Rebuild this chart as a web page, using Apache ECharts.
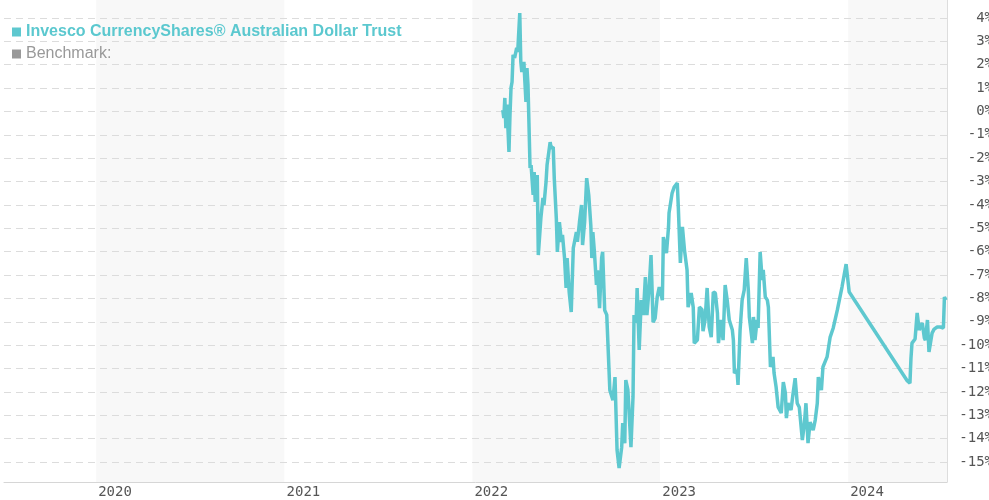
<!DOCTYPE html>
<html>
<head>
<meta charset="utf-8">
<title>Invesco CurrencyShares Australian Dollar Trust</title>
<script src="https://cdn.jsdelivr.net/npm/echarts@6/dist/echarts.min.js"></script>
<style>
  html, body { margin: 0; padding: 0; background: #fff; }
  #chart { width: 989px; height: 500px; }
</style>
</head>
<body>
<div id="chart"></div>
<script>
var fundName = 'Invesco CurrencyShares® Australian Dollar Trust'
var benchName = 'Benchmark:'

// cumulative return in %
var dates = [
  '2022-03-01', '2022-03-03', '2022-03-05', '2022-03-07', '2022-03-09', '2022-03-13', '2022-03-15', '2022-03-17',
  '2022-03-19', '2022-03-21', '2022-03-24', '2022-03-28', '2022-03-30', '2022-04-03', '2022-04-05', '2022-04-07',
  '2022-04-11', '2022-04-13', '2022-04-15', '2022-04-17', '2022-04-19', '2022-04-23', '2022-04-25', '2022-04-29',
  '2022-05-01', '2022-05-03', '2022-05-07', '2022-05-09', '2022-05-14', '2022-05-18', '2022-05-20', '2022-05-24',
  '2022-05-26', '2022-06-01', '2022-06-03', '2022-06-07', '2022-06-09', '2022-06-13', '2022-06-15', '2022-06-19',
  '2022-06-23', '2022-06-25', '2022-06-29', '2022-07-02', '2022-07-04', '2022-07-08', '2022-07-12', '2022-07-16',
  '2022-07-22', '2022-07-24', '2022-07-28', '2022-08-01', '2022-08-03', '2022-08-07', '2022-08-11', '2022-08-15',
  '2022-08-19', '2022-08-21', '2022-08-23', '2022-08-26', '2022-08-30', '2022-09-01', '2022-09-05', '2022-09-09',
  '2022-09-11', '2022-09-15', '2022-09-19', '2022-09-25', '2022-10-01', '2022-10-05', '2022-10-09', '2022-10-13',
  '2022-10-18', '2022-10-20', '2022-10-24', '2022-10-26', '2022-10-30', '2022-11-05', '2022-11-09', '2022-11-11',
  '2022-11-15', '2022-11-17', '2022-11-21', '2022-11-25', '2022-11-29', '2022-12-03', '2022-12-06', '2022-12-10',
  '2022-12-14', '2022-12-18', '2022-12-22', '2022-12-26', '2022-12-30',
  '2023-01-05', '2023-01-07', '2023-01-13', '2023-01-17', '2023-01-18', '2023-01-24', '2023-01-28', '2023-02-03',
  '2023-02-05', '2023-02-09', '2023-02-13', '2023-02-17', '2023-02-22', '2023-02-24', '2023-03-02', '2023-03-06',
  '2023-03-08', '2023-03-14', '2023-03-18', '2023-03-23', '2023-03-25', '2023-03-29', '2023-04-02', '2023-04-06',
  '2023-04-10', '2023-04-14', '2023-04-18', '2023-04-22', '2023-04-24', '2023-04-29', '2023-05-03', '2023-05-07',
  '2023-05-11', '2023-05-15', '2023-05-21', '2023-05-23', '2023-05-25', '2023-05-30', '2023-06-01', '2023-06-05',
  '2023-06-09', '2023-06-13', '2023-06-17', '2023-06-21', '2023-06-23', '2023-06-29', '2023-07-01', '2023-07-04',
  '2023-07-08', '2023-07-10', '2023-07-14', '2023-07-18', '2023-07-20', '2023-07-24', '2023-07-28', '2023-07-30',
  '2023-08-03', '2023-08-08', '2023-08-10', '2023-08-14', '2023-08-18', '2023-08-24', '2023-08-28', '2023-09-01',
  '2023-09-03', '2023-09-06', '2023-09-12', '2023-09-16', '2023-09-20', '2023-09-24', '2023-09-28', '2023-10-04',
  '2023-10-08', '2023-10-11', '2023-10-15', '2023-10-19', '2023-10-25', '2023-10-29', '2023-11-02', '2023-11-04',
  '2023-11-10', '2023-11-13', '2023-11-21', '2023-11-27', '2023-12-03', '2023-12-11', '2023-12-20', '2023-12-28',
  '2024-01-03', '2024-04-25', '2024-04-30', '2024-05-02', '2024-05-04', '2024-05-10', '2024-05-14', '2024-05-18',
  '2024-05-24', '2024-05-28', '2024-05-30', '2024-06-03', '2024-06-06', '2024-06-12', '2024-06-16', '2024-06-22',
  '2024-06-28', '2024-07-04', '2024-07-06', '2024-07-09'
]
var fundValues = [
  0.06, -0.28, 0.58, -0.71, 0.3, -1.73, -0.15, 1.01,
  1.26, 2.42, 2.29, 2.72, 2.55, 4.21, 2.12, 1.69,
  2.12, 1.26, 0.41, 1.86, 1.13, -2.42, -2.29, -3.57,
  -2.59, -3.87, -2.72, -6.14, -4.56, -3.70, -4.00, -3.02,
  -2.29, -1.31, -1.56, -1.52, -2.85, -4.56, -6.01, -4.73,
  -5.58, -5.28, -6.27, -7.55, -6.27, -7.72, -8.58, -5.84,
  -5.16, -5.58, -4.73, -4.00, -5.71, -4.73, -2.85, -3.57,
  -4.86, -6.27, -5.16, -6.01, -7.42, -6.8, -8.41, -6.27,
  -6.0, -8.5, -8.7, -11.92, -12.35, -11.36, -14.48, -15.25,
  -14.36, -13.33, -14.19, -11.49, -11.9, -14.36, -12.21, -8.71,
  -9.05, -7.55, -10.2, -8.07, -8.71, -7.08, -8.71, -7.64,
  -6.14, -9.01, -8.84, -7.94, -7.51,
  -8.07, -5.37, -6.06, -4.94, -4.34, -3.49, -3.23, -3.06,
  -4.09, -6.48, -4.94, -5.93, -6.78, -8.37, -7.77, -8.37,
  -9.91, -9.78, -8.37, -8.47, -9.4, -8.92, -7.55, -9.22,
  -9.65, -7.72, -7.77, -8.62, -9.91, -8.92, -9.78, -7.42,
  -8.07, -8.92, -9.35, -9.78, -11.19, -11.06, -11.7, -9.35,
  -8.07, -7.64, -6.27, -7.64, -8.79, -9.91, -8.79, -9.78,
  -8.92, -9.26, -6.01, -7.21, -6.78, -7.94, -8.07, -8.37,
  -10.93, -10.5, -11.19, -11.79, -12.65, -12.9, -11.58, -12.05,
  -13.12, -12.48, -12.77, -12.05, -11.41, -12.48, -12.65, -14.06,
  -13.33, -12.48, -14.19, -13.29, -13.63, -13.2, -12.48, -11.36,
  -11.92, -10.93, -10.5, -9.65, -9.26, -8.49, -7.51, -6.53,
  -7.72, -11.53, -11.62, -10.55, -9.91, -9.73, -8.62, -9.35,
  -9.05, -9.69, -9.78, -8.92, -10.29, -9.48, -9.31, -9.22,
  -9.22, -9.26, -7.94, -8.07
]
var benchValues = []

// axis ranges
var xStart = '2019-07-06'
var xEnd = '2024-07-11'
var tickMin = -15
var tickMax = 4
var plotMin = -15.85
var plotMax = 4.77

var labelFont = 'DejaVu Sans Mono'

var chart = echarts.init(document.getElementById('chart'))
var option = {
  animation: false,
  backgroundColor: '#fff',
  legend: {
    orient: 'vertical',
    left: 7,
    top: 19,
    itemWidth: 9,
    itemHeight: 9,
    itemGap: 6,
    icon: 'rect',
    selectedMode: false,
    textStyle: { fontFamily: 'Liberation Sans', fontSize: 16 },
    data: [
      { name: fundName, textStyle: { color: '#5bc8cf', fontWeight: 'bold' } },
      { name: benchName, textStyle: { color: '#999' } }
    ]
  },
  grid: [
    { left: 4, right: 42, top: 0, bottom: 18, outerBoundsMode: 'none' },
    { left: 4, right: 42, top: 18, bottom: 38, outerBoundsMode: 'none' }
  ],
  xAxis: [
    {
      type: 'time',
      gridIndex: 0,
      min: xStart,
      max: xEnd,
      splitNumber: 5,
      minInterval: 365 * 24 * 3600 * 1000,
      axisLine: { onZero: false, lineStyle: { color: '#d6d6d6' } },
      axisTick: { show: false },
      splitLine: { show: false },
      splitArea: { show: true, areaStyle: { color: ['#ffffff', '#f8f8f8'] } },
      axisLabel: {
        align: 'left',
        margin: 3,
        padding: [0, 0, 0, 2],
        color: '#555',
        fontFamily: labelFont,
        fontSize: 14,
        formatter: function (val) {
          var d = new Date(val)
          return (d.getMonth() === 0 && d.getDate() === 1) ? String(d.getFullYear()) : ''
        }
      }
    },
    { type: 'time', gridIndex: 1, min: xStart, max: xEnd, show: false }
  ],
  yAxis: [
    {
      type: 'value',
      gridIndex: 0,
      position: 'right',
      min: plotMin,
      max: plotMax,
      axisLine: { show: true, onZero: false, lineStyle: { color: '#dddddd' } },
      axisTick: { show: false },
      axisLabel: { show: false },
      splitLine: { show: false }
    },
    {
      type: 'value',
      gridIndex: 1,
      position: 'right',
      min: tickMin,
      max: tickMax,
      interval: 1,
      z: 1,
      axisLine: { show: false },
      axisTick: { show: false },
      axisLabel: {
        align: 'right',
        margin: 46,
        color: '#555',
        fontFamily: labelFont,
        fontSize: 14,
        formatter: '{value}%'
      },
      splitLine: { lineStyle: { color: '#dcdcdc', type: [7, 5] } }
    }
  ],
  series: [
    {
      name: fundName,
      type: 'line',
      xAxisIndex: 0,
      yAxisIndex: 0,
      showSymbol: false,
      z: 3,
      itemStyle: { color: '#5ec8cf' },
      lineStyle: { width: 3.5, color: '#5ec8cf' },
      data: dates.map(function (d, i) { return [d, fundValues[i]] })
    },
    {
      name: benchName,
      type: 'line',
      xAxisIndex: 0,
      yAxisIndex: 0,
      showSymbol: false,
      itemStyle: { color: '#999' },
      data: benchValues
    }
  ]
}
chart.setOption(option)
</script>
</body>
</html>
